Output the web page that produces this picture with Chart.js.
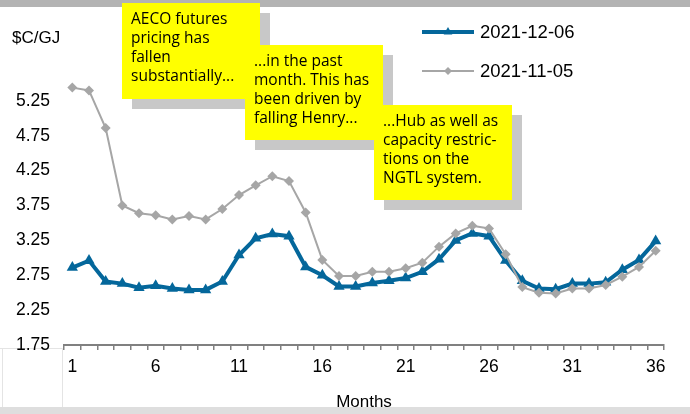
<!DOCTYPE html>
<html>
<head>
<meta charset="utf-8">
<script src="https://cdn.jsdelivr.net/npm/chart.js@4.4.0/dist/chart.umd.min.js"></script>
<style>
  html, body { margin: 0; padding: 0; background: #fff; }
  #wrap { width: 690px; height: 414px; }
</style>
</head>
<body>
<div id="wrap"><canvas id="chart" width="690" height="414"></canvas></div>
<script>
// months ahead on the futures strip
const months = ['1','2','3','4','5','6','7','8','9','10','11','12','13','14','15','16','17','18',
  '19','20','21','22','23','24','25','26','27','28','29','30','31','32','33','34','35','36'];

// AECO futures, $C/GJ
const dec06 = [2.86, 2.96, 2.66, 2.63, 2.57, 2.60, 2.56, 2.54, 2.54, 2.66, 3.04, 3.28,
  3.34, 3.31, 2.87, 2.75, 2.59, 2.59, 2.64, 2.67, 2.71, 2.80, 2.98, 3.25,
  3.35, 3.31, 2.96, 2.67, 2.56, 2.55, 2.63, 2.63, 2.65, 2.83, 2.97, 3.24];
const nov05 = [5.44, 5.40, 4.86, 3.75, 3.64, 3.61, 3.55, 3.60, 3.55, 3.70, 3.90, 4.04,
  4.17, 4.10, 3.65, 2.97, 2.74, 2.74, 2.80, 2.80, 2.85, 2.93, 3.16, 3.35,
  3.46, 3.42, 3.05, 2.58, 2.50, 2.49, 2.56, 2.56, 2.61, 2.73, 2.87, 3.10];

const yTicks = [1.75, 2.25, 2.75, 3.25, 3.75, 4.25, 4.75, 5.25, 5.75];
const seriesNames = ['2021-12-06', '2021-11-05'];

const notes = [
  ['AECO futures', 'pricing has', 'fallen', 'substantially...'],
  ['...in the past', 'month. This has', 'been driven by', 'falling Henry...'],
  ['...Hub as well as', 'capacity restric-', 'tions on the', 'NGTL system.']
];
// box geometry for the sticky notes: x, y, w, h
const noteBoxes = [[122, 3, 138, 96], [245, 45, 138, 95], [374, 105, 138, 95]];

const BLUE = '#04679b';
const GREY = '#a6a6a6';
const sans = '"Liberation Sans", Arial, sans-serif';
const noteFont = '15.5px "Comic Sans MS", "Open Sans", sans-serif';

const decor = {
  id: 'decor',
  beforeDraw(chart) {
    const ctx = chart.ctx;
    ctx.save();
    ctx.fillStyle = '#fff';
    ctx.fillRect(0, 0, chart.width, chart.height);
    ctx.fillStyle = '#b3b3b3';
    ctx.fillRect(0, 0, chart.width, 7);
    ctx.fillStyle = '#dedede';
    ctx.fillRect(0, 407, chart.width, 7);
    // faint frame left over bottom-left
    ctx.strokeStyle = '#e4e4e4';
    ctx.lineWidth = 1;
    ctx.beginPath();
    ctx.moveTo(0, 348.5); ctx.lineTo(62.5, 348.5); ctx.lineTo(62.5, 407);
    ctx.moveTo(2.5, 348.5); ctx.lineTo(2.5, 407);
    ctx.stroke();
    ctx.restore();
  },
  afterDraw(chart) {
    const ctx = chart.ctx;
    ctx.save();

    // unit label
    ctx.fillStyle = '#000';
    ctx.font = '17px ' + sans;
    ctx.textBaseline = 'middle';
    ctx.textAlign = 'left';
    ctx.fillText('$C/GJ', 12, 38);

    // legend
    ctx.font = '18.5px ' + sans;
    const legendRows = [
      { y: 32, color: BLUE, width: 4, style: 'triangle', r: 5 },
      { y: 71, color: GREY, width: 2, style: 'rectRot', r: 4 }
    ];
    legendRows.forEach((row, i) => {
      ctx.strokeStyle = row.color;
      ctx.lineWidth = row.width;
      ctx.beginPath();
      ctx.moveTo(422, row.y);
      ctx.lineTo(474, row.y);
      ctx.stroke();
      ctx.fillStyle = row.color;
      Chart.helpers.drawPoint(ctx, { pointStyle: row.style, radius: row.r, borderWidth: 0, rotation: 0 }, 448, row.y);
      ctx.fillStyle = '#000';
      ctx.fillText(seriesNames[i], 480, row.y + 1);
    });

    // sticky notes
    ctx.font = noteFont;
    notes.forEach((lines, i) => {
      const [x, y, w, h] = noteBoxes[i];
      ctx.fillStyle = '#c8c8c8';
      ctx.fillRect(x + 10, y + 10, w, h);
      ctx.fillStyle = '#ffff00';
      ctx.fillRect(x, y, w, h);
      ctx.fillStyle = '#000';
      lines.forEach((t, j) => ctx.fillText(t, x + 9, y + 17 + j * 19));
    });
    ctx.restore();
  }
};

new Chart(document.getElementById('chart'), {
  type: 'line',
  data: {
    labels: months,
    datasets: [
      {
        label: seriesNames[0],
        data: dec06,
        borderColor: BLUE,
        backgroundColor: BLUE,
        borderWidth: 4,
        pointStyle: 'triangle',
        pointRadius: 6.5,
        pointBorderWidth: 0,
        order: 1
      },
      {
        label: seriesNames[1],
        data: nov05,
        borderColor: GREY,
        backgroundColor: GREY,
        borderWidth: 2,
        pointStyle: 'rectRot',
        pointRadius: 5,
        pointBorderWidth: 0,
        order: 0
      }
    ]
  },
  options: {
    responsive: false,
    animation: false,
    devicePixelRatio: 1,
    layout: { padding: { top: 66, right: 26, left: 0, bottom: 0 } },
    plugins: { legend: { display: false }, tooltip: { enabled: false } },
    elements: { line: { tension: 0 } },
    scales: {
      x: {
        offset: true,
        grid: { offset: true, drawOnChartArea: false, drawTicks: true, tickLength: 5, color: '#808080', lineWidth: 1.5 },
        border: { display: true, color: '#808080', width: 2 },
        ticks: {
          autoSkip: false,
          maxRotation: 0,
          padding: 7,
          color: '#000',
          font: { family: sans, size: 17.5 },
          callback: (v, i) => (i % 5 === 0 ? months[i] : '')
        },
        title: {
          display: true,
          text: 'Months',
          color: '#000',
          font: { family: sans, size: 17 },
          padding: { top: 0, bottom: 1 }
        },
        afterFit: s => { s.height = 69; }
      },
      y: {
        min: 1.75,
        max: 5.75,
        grid: { display: false, drawTicks: false },
        border: { display: false },
        afterBuildTicks: s => { s.ticks = yTicks.map(v => ({ value: v })); },
        ticks: {
          padding: 14,
          color: '#000',
          font: { family: sans, size: 17.5 },
          callback: v => (v > 5.5 ? '' : v.toFixed(2))
        },
        afterFit: s => { s.width = 64; }
      }
    }
  },
  plugins: [decor]
});
</script>
</body>
</html>
